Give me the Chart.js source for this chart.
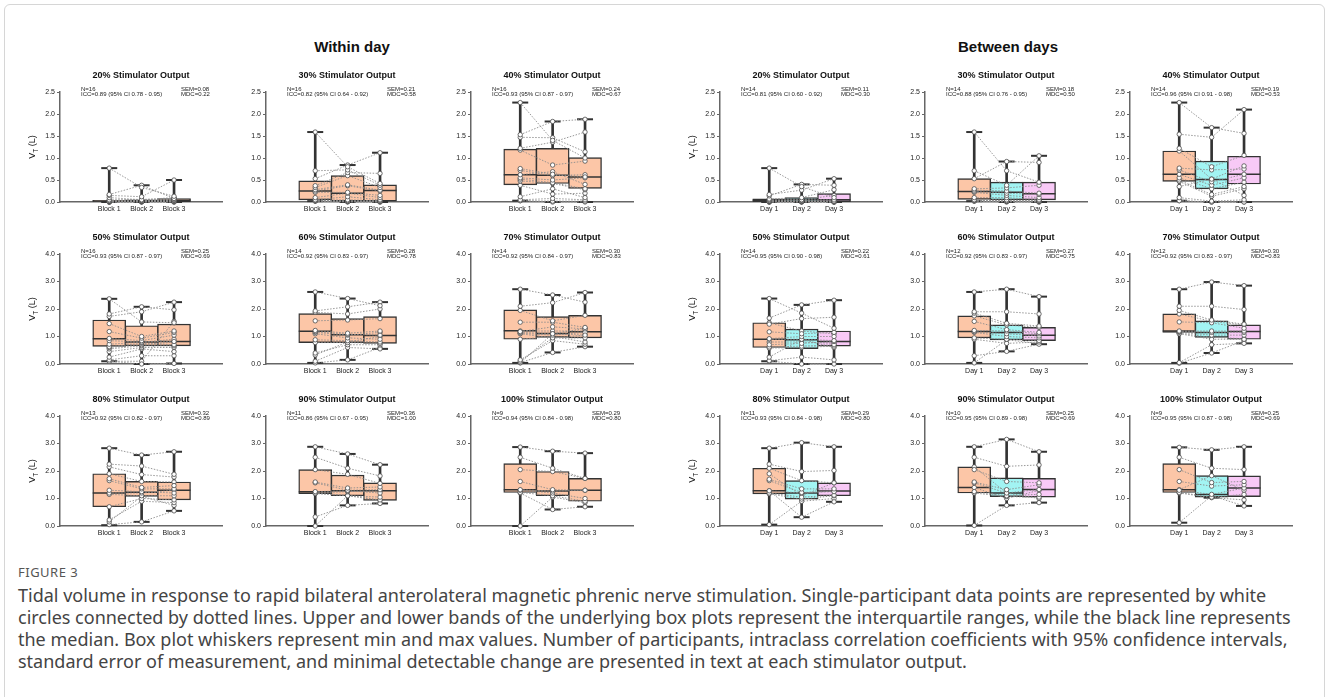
<!DOCTYPE html>
<html>
<head>
<meta charset="utf-8">
<script src="https://cdn.jsdelivr.net/npm/chart.js@4.4.1/dist/chart.umd.min.js"></script>
<style>
  body { margin: 0; background: #fff; font-family: "Liberation Sans", Arial, sans-serif; }
  #frame { position: absolute; left: 4px; top: 4px; width: 1319px; height: 760px; border: 1px solid #d6d6d6; border-radius: 6px; }
  .panel { position: absolute; width: 240px; height: 160px; }
  .hdr { position: absolute; font-weight: bold; font-size: 15px; color: #111; transform: translateX(-50%); white-space: nowrap; }
  #figlabel { position: absolute; left: 18px; top: 563px; font-size: 13px; color: #555; letter-spacing: 0.5px; font-family: "Noto Sans", sans-serif; }
  #cap { position: absolute; left: 18px; top: 584px; width: 1310px; font-size: 18px; line-height: 22px; color: #444; font-family: "Noto Sans", sans-serif; white-space: nowrap; }
</style>
</head>
<body>
<div id="frame"></div>
<div class="hdr" style="left:352px;top:38px">Within day</div>
<div class="hdr" style="left:1008px;top:38px">Between days</div>
<div id="figlabel">FIGURE 3</div>
<div id="cap">Tidal volume in response to rapid bilateral anterolateral magnetic phrenic nerve stimulation. Single-participant data points are represented by white<br>circles connected by dotted lines. Upper and lower bands of the underlying box plots represent the interquartile ranges, while the black line represents<br>the median. Box plot whiskers represent min and max values. Number of participants, intraclass correlation coefficients with 95% confidence intervals,<br>standard error of measurement, and minimal detectable change are presented in text at each stimulator output.</div>
<div id="panels"></div>

<script>
// ---- data ----
// box stats per group: [min, q1, median, q3, max]
const w20Box = [[0,0,0.02,0.04,0.77],[0,0.01,0.03,0.05,0.38],[0,0.01,0.04,0.08,0.50]];
const w30Box = [[0.02,0.05,0.25,0.48,1.59],[0,0.02,0.20,0.60,0.84],[0,0.02,0.26,0.39,1.12]];
const w40Box = [[0.03,0.39,0.62,1.20,2.26],[0,0.42,0.61,1.22,1.83],[0,0.31,0.57,1.01,1.88]];
const d20Box = [[0,0.01,0.04,0.07,0.77],[0,0.01,0.05,0.10,0.40],[0,0.01,0.05,0.19,0.53]];
const d30Box = [[0.02,0.06,0.24,0.53,1.59],[0,0.05,0.22,0.45,0.92],[0,0.05,0.19,0.45,1.05]];
const d40Box = [[0.03,0.47,0.63,1.16,2.26],[0,0.30,0.51,0.93,1.69],[0,0.41,0.63,1.04,2.10]];
const w50Box = [[0.10,0.64,0.92,1.60,2.37],[0,0.66,0.80,1.39,2.08],[0.02,0.66,0.82,1.45,2.25]];
const w60Box = [[0.04,0.78,1.19,1.83,2.62],[0.15,0.78,1.06,1.65,2.38],[0.55,0.75,1.04,1.72,2.25]];
const w70Box = [[0.04,0.90,1.21,1.97,2.72],[0.42,0.97,1.11,1.72,2.51],[0.63,0.95,1.17,1.77,2.60]];
const d50Box = [[0.10,0.60,0.90,1.50,2.38],[0,0.56,0.88,1.27,2.15],[0,0.65,0.82,1.20,2.32]];
const d60Box = [[0.04,0.95,1.18,1.75,2.62],[0.46,0.88,1.15,1.42,2.72],[0.72,0.85,1.05,1.33,2.45]];
const d70Box = [[0.04,1.15,1.20,1.82,2.72],[0.40,0.97,1.15,1.57,2.98],[0.75,0.90,1.18,1.42,2.85]];
const w80Box = [[0.03,0.70,1.20,1.90,2.83],[0.15,1.08,1.23,1.62,2.58],[0.55,0.95,1.30,1.60,2.70]];
const w90Box = [[0,1.18,1.25,2.05,2.88],[0.75,1.10,1.28,1.85,2.62],[0.82,0.93,1.28,1.57,2.23]];
const w100Box = [[0,1.22,1.32,2.27,2.87],[0.60,1.10,1.27,1.98,2.72],[0.70,0.90,1.30,1.73,2.65]];
const d80Box = [[0.05,1.17,1.28,2.10,2.83],[0.32,0.98,1.20,1.65,3.03],[0.88,1.10,1.27,1.57,2.88]];
const d90Box = [[0.02,1.20,1.40,2.15,2.88],[0.75,1.07,1.20,1.75,3.15],[0.85,1.05,1.33,1.73,2.70]];
const d100Box = [[0.12,1.22,1.32,2.27,2.86],[1.03,1.05,1.15,1.83,2.77],[0.73,1.07,1.38,1.82,2.88]];

// single participants: [group1, group2, group3]
const w20Pts = [[0.77,0.33,0.13],[0.17,0.38,0.08],[0.15,0.12,0.50],[0.10,0.05,0.10],[0.05,0.06,0.07],[0.03,0.04,0.05],[0.03,0.03,0.06],[0.02,0.03,0.04],[0.02,0.02,0.05],[0.01,0.02,0.03],[0.01,0.01,0.02],[0.01,0.01,0.02],[0,0,0.01],[0,0.02,0.01],[0,0,0],[0,0.01,0]];
const w30Pts = [[1.59,0.80,0.42],[0.71,0.73,0.38],[0.53,0.84,1.12],[0.37,0.67,0.65],[0.33,0.60,0.33],[0.28,0.39,0.27],[0.25,0.37,0.25],[0.22,0.22,0.15],[0.10,0.20,0.10],[0.05,0.12,0.05],[0.04,0.05,0.03],[0.04,0.03,0.02],[0.03,0.02,0.02],[0.03,0.01,0.01],[0.02,0.01,0],[0.02,0,0]];
const w40Pts = [[2.26,1.40,1.00],[1.53,1.83,1.88],[1.47,1.46,1.14],[1.22,1.36,1.59],[1.18,0.84,0.93],[0.76,0.63,0.57],[0.72,0.60,0.62],[0.62,0.69,0.40],[0.55,0.50,0.55],[0.52,0.44,0.30],[0.48,0.42,0.28],[0.38,0.18,0.20],[0.12,0.30,0.10],[0.05,0.08,0.05],[0.03,0.02,0.02],[0.03,0,0]];
const d20Pts = [[0.77,0.35,0.10],[0.17,0.27,0.53],[0.14,0.40,0.38],[0.07,0.10,0.28],[0.05,0.05,0.15],[0.03,0.05,0.05],[0.03,0.04,0.02],[0.02,0.02,0.02],[0.02,0.02,0.01],[0.01,0.01,0.01],[0.01,0.01,0],[0,0.01,0],[0,0,0],[0,0,0]];
const d30Pts = [[1.59,0.71,0.45],[0.71,0.38,1.05],[0.53,0.92,0.90],[0.30,0.32,0.38],[0.27,0.25,0.20],[0.24,0.20,0.17],[0.22,0.15,0.10],[0.10,0.10,0.05],[0.05,0.05,0.03],[0.05,0.03,0.02],[0.04,0.02,0.02],[0.03,0.02,0.01],[0.02,0.01,0],[0.02,0,0]];
const d40Pts = [[2.26,1.69,1.56],[1.54,1.47,2.10],[1.22,0.80,1.06],[1.16,0.52,0.82],[0.77,0.73,0.75],[0.73,0.46,0.63],[0.63,0.38,0.55],[0.55,0.30,0.45],[0.50,0.17,0.35],[0.47,0.13,0.30],[0.35,0.52,0.15],[0.10,0.02,0.05],[0.03,0,0],[0.03,0,0]];
const w50Pts = [[2.37,1.53,1.50],[1.82,2.08,1.97],[1.73,1.90,2.25],[1.47,1.00,1.20],[1.18,0.94,1.15],[0.93,0.85,1.05],[0.85,0.80,0.82],[0.72,0.79,0.90],[0.63,0.75,0.70],[0.60,0.70,0.80],[0.55,0.66,0.66],[0.45,0.60,0.60],[0.25,0.55,0.45],[0.15,0.30,0.30],[0.10,0,0.02],[0.10,0.10,1.55]];
const w60Pts = [[2.62,2.38,2.12],[1.93,2.08,2.25],[1.88,1.82,2.00],[1.57,1.60,1.65],[1.22,1.12,1.20],[1.18,1.08,1.05],[1.15,1.05,1.15],[1.10,0.95,0.90],[0.88,0.85,0.80],[0.78,0.78,0.75],[0.40,0.70,0.70],[0.33,0.80,1.00],[0.10,0.60,0.55],[0.04,0.15,0.60]];
const w70Pts = [[2.72,2.51,2.25],[2.10,2.23,2.60],[1.95,1.57,1.77],[1.52,1.52,1.33],[1.18,1.35,1.28],[1.15,1.10,1.05],[1.12,1.05,1.15],[1.10,0.95,0.95],[0.90,1.00,0.80],[0.15,0.85,0.72],[0.10,0.95,1.05],[0.05,0.42,0.63],[0.04,1.10,1.30],[1.20,1.20,1.20]];
const d50Pts = [[2.38,1.85,1.30],[1.67,2.15,2.32],[1.45,1.65,1.70],[1.17,1.10,1.15],[0.92,1.00,1.00],[0.90,0.90,0.85],[0.70,0.75,0.82],[0.62,0.65,0.70],[0.58,0.60,0.65],[0.25,0.90,0.60],[0.12,0.25,0.15],[0.10,0,0],[1.50,1.20,1.10],[0.80,0.80,0.75]];
const d60Pts = [[2.62,2.72,2.45],[1.90,1.90,1.82],[1.85,1.48,1.38],[1.55,1.25,1.15],[1.22,1.20,1.10],[1.18,1.10,1.02],[1.15,1.00,0.95],[0.95,0.90,0.85],[0.90,0.75,0.80],[0.30,0.46,0.72],[0.04,0.88,0.75],[1.75,1.42,1.33]];
const d70Pts = [[2.72,2.98,2.85],[2.10,2.10,1.98],[1.95,1.60,1.45],[1.53,1.50,1.30],[1.82,1.55,1.42],[1.20,1.20,1.20],[1.18,1.15,1.15],[1.15,1.05,1.05],[1.10,0.90,0.90],[1.12,0.97,0.92],[0.05,0.70,0.75],[0.03,0.40,0.85]];
const w80Pts = [[2.83,2.58,2.70],[2.25,2.18,1.88],[2.15,1.87,1.78],[1.72,1.40,1.47],[1.65,1.35,1.35],[1.30,1.25,1.20],[1.20,1.20,1.30],[1.15,1.10,1.10],[1.90,1.62,1.60],[0.70,1.00,0.95],[0.22,0.90,0.85],[0.15,1.08,0.75],[0.05,0.15,0.55]];
const w90Pts = [[2.88,2.62,2.23],[2.50,2.10,1.82],[2.05,1.88,1.55],[1.60,1.38,1.42],[1.57,1.30,1.32],[1.25,1.28,1.20],[1.20,1.25,1.28],[1.18,1.10,1.05],[1.19,1.12,0.95],[0.33,0.75,0.82],[0,1.10,0.93]];
const w100Pts = [[2.87,2.72,2.65],[2.50,2.10,1.73],[2.05,1.98,1.73],[1.62,1.32,1.30],[1.32,1.27,1.30],[1.30,1.20,1.00],[1.22,1.10,0.90],[1.20,0.60,0.70],[0,1.05,0.85]];
const d80Pts = [[2.83,3.03,2.88],[2.25,1.98,2.02],[2.10,1.65,1.57],[1.70,1.35,1.35],[1.65,1.22,1.25],[1.28,1.20,1.27],[1.20,1.05,1.12],[1.17,0.98,1.10],[1.28,0.32,0.88],[0.05,0.90,1.00],[1.90,1.10,1.57]];
const d90Pts = [[2.88,3.15,2.70],[2.50,2.17,2.22],[2.05,1.62,1.57],[1.60,1.32,1.50],[1.57,1.20,1.33],[1.25,1.10,1.15],[1.20,1.07,1.05],[1.40,1.00,1.30],[2.15,1.20,1.00],[0.02,0.75,0.85]];
const d100Pts = [[2.86,2.77,2.88],[2.50,2.10,2.05],[2.05,1.58,1.62],[1.62,1.45,1.50],[1.30,1.15,1.38],[1.22,1.05,1.15],[1.20,1.03,0.95],[0.12,1.10,0.73],[1.32,1.83,1.30]];

const blockLabels = ["Block 1", "Block 2", "Block 3"];
const dayLabels = ["Day 1", "Day 2", "Day 3"];
const outputs = ["20%", "30%", "40%", "50%", "60%", "70%", "80%", "90%", "100%"];
const withinN = [16, 16, 16, 16, 14, 14, 13, 11, 9];
const withinICC = ["0.89 (95% CI 0.78 - 0.95)", "0.82 (95% CI 0.64 - 0.92)", "0.93 (95% CI 0.87 - 0.97)", "0.93 (95% CI 0.87 - 0.97)", "0.92 (95% CI 0.83 - 0.97)", "0.92 (95% CI 0.84 - 0.97)", "0.92 (95% CI 0.82 - 0.97)", "0.86 (95% CI 0.67 - 0.95)", "0.94 (95% CI 0.84 - 0.98)"];
const withinSEM = ["0.08", "0.21", "0.24", "0.25", "0.28", "0.30", "0.32", "0.36", "0.29"];
const withinMDC = ["0.22", "0.58", "0.67", "0.69", "0.78", "0.83", "0.89", "1.00", "0.80"];
const betweenN = [14, 14, 14, 14, 12, 12, 11, 10, 9];
const betweenICC = ["0.81 (95% CI 0.60 - 0.92)", "0.88 (95% CI 0.76 - 0.95)", "0.96 (95% CI 0.91 - 0.98)", "0.95 (95% CI 0.90 - 0.98)", "0.92 (95% CI 0.83 - 0.97)", "0.92 (95% CI 0.83 - 0.97)", "0.93 (95% CI 0.84 - 0.98)", "0.95 (95% CI 0.89 - 0.98)", "0.95 (95% CI 0.87 - 0.98)"];
const betweenSEM = ["0.11", "0.18", "0.19", "0.22", "0.27", "0.30", "0.29", "0.25", "0.25"];
const betweenMDC = ["0.30", "0.50", "0.53", "0.61", "0.75", "0.83", "0.80", "0.69", "0.69"];

const withinBoxes = [w20Box, w30Box, w40Box, w50Box, w60Box, w70Box, w80Box, w90Box, w100Box];
const withinPts = [w20Pts, w30Pts, w40Pts, w50Pts, w60Pts, w70Pts, w80Pts, w90Pts, w100Pts];
const betweenBoxes = [d20Box, d30Box, d40Box, d50Box, d60Box, d70Box, d80Box, d90Box, d100Box];
const betweenPts = [d20Pts, d30Pts, d40Pts, d50Pts, d60Pts, d70Pts, d80Pts, d90Pts, d100Pts];

// ---- layout ----
const FONT = '"Liberation Sans", Arial, sans-serif';
const withinAxisX = [60, 266, 471];
const betweenAxisX = [720, 925, 1130];
const rowTop = [92, 254, 416];
const salmon = "#fcc6a7", cyan = "#a2f4f3", pink = "#f8c9f6";

const panelText = {
  id: "panelText",
  afterDraw(chart, args, o) {
    const ctx = chart.ctx, a = chart.chartArea;
    ctx.save();
    ctx.fillStyle = "#111";
    ctx.textAlign = "center";
    ctx.textBaseline = "middle";
    ctx.font = "bold 9px " + FONT;
    ctx.fillText(o.title, (a.left + a.right) / 2, a.top - 16.5);
    ctx.font = "6px " + FONT;
    ctx.fillStyle = "#222";
    ctx.textAlign = "left";
    ctx.fillText("N=" + o.n, a.left + 21, a.top - 3);
    ctx.fillText("ICC=" + o.icc, a.left + 21, a.top + 2.5);
    ctx.fillText("SEM=" + o.sem, a.left + 121, a.top - 3);
    ctx.fillText("MDC=" + o.mdc, a.left + 121, a.top + 2.5);
    if (o.yTitle) {
      ctx.translate(a.left - 27, (a.top + a.bottom) / 2);
      ctx.rotate(-Math.PI / 2);
      ctx.fillStyle = "#111";
      ctx.textAlign = "left";
      ctx.font = "9px " + FONT;
      const w1 = ctx.measureText("V").width;
      ctx.font = "6.5px " + FONT;
      const w2 = ctx.measureText("T").width;
      ctx.font = "9px " + FONT;
      const w3 = ctx.measureText(" (L)").width;
      let x = -(w1 + w2 + w3) / 2;
      ctx.fillText("V", x, 0);
      ctx.font = "6.5px " + FONT;
      ctx.fillText("T", x + w1, 3);
      ctx.font = "9px " + FONT;
      ctx.fillText(" (L)", x + w1 + w2, 0);
    }
    ctx.restore();
  }
};

function makePanel(left, top, box, pts, labels, colors, title, n, icc, sem, mdc, yMax, yTitle) {
  const div = document.createElement("div");
  div.className = "panel";
  div.style.left = (left - 60) + "px";
  div.style.top = (top - 32) + "px";
  const cv = document.createElement("canvas");
  cv.width = 240; cv.height = 160;
  div.appendChild(cv);
  document.getElementById("panels").appendChild(div);

  const datasets = [];
  pts.forEach(row => {
    datasets.push({
      type: "line",
      data: row.map((v, i) => ({ x: i + 1, y: v })),
      borderColor: "#8c8c8c",
      borderWidth: 0.9,
      borderDash: [1.5, 1.5],
      pointRadius: 2.2,
      pointBackgroundColor: "#fff",
      pointBorderColor: "#4a4a4a",
      pointBorderWidth: 0.8,
      clip: false,
      order: 1
    });
  });
  // medians
  datasets.push({
    type: "line", showLine: false,
    data: box.map((b, i) => ({ x: i + 1, y: b[2] })),
    pointStyle: "line", pointRadius: 16.5,
    pointBorderColor: "#333", pointBorderWidth: 1.5, clip: false, order: 2
  });
  // whisker caps
  datasets.push({
    type: "line", showLine: false,
    data: box.flatMap((b, i) => [{ x: i + 1, y: b[0] }, { x: i + 1, y: b[4] }]),
    pointStyle: "line", pointRadius: 8,
    pointBorderColor: "#333", pointBorderWidth: 2, clip: false, order: 2
  });
  // boxes (interquartile range)
  datasets.push({
    type: "bar",
    data: box.map((b, i) => ({ x: i + 1, y: [b[1], b[3]] })),
    backgroundColor: colors, borderColor: "#333", borderWidth: 1.4,
    borderSkipped: false, barThickness: 33, grouped: false, order: 3
  });
  // whiskers
  datasets.push({
    type: "bar",
    data: box.map((b, i) => ({ x: i + 1, y: [b[0], b[4]] })),
    backgroundColor: "#333", borderWidth: 0,
    barThickness: 2, grouped: false, order: 4
  });

  new Chart(cv, {
    type: "bar",
    data: { datasets },
    options: {
      responsive: false,
      animation: false,
      devicePixelRatio: 1,
      layout: { padding: { top: 32, right: 10, left: 0, bottom: 0 } },
      plugins: {
        legend: { display: false },
        tooltip: { enabled: false },
        panelText: { title, n, icc, sem, mdc, yTitle }
      },
      scales: {
        x: {
          type: "linear", min: 0.314, max: 3.647,
          afterBuildTicks: s => { s.ticks = [{ value: 1 }, { value: 2 }, { value: 3 }]; },
          afterFit: s => { s.height = 16; },
          ticks: { callback: v => labels[Math.round(v) - 1], font: { size: 7, family: FONT }, color: "#222", padding: 3, maxRotation: 0, autoSkip: false },
          grid: { display: false, drawTicks: false, tickLength: 0 },
          border: { display: true, color: "#666", width: 1.5 }
        },
        y: {
          min: 0, max: yMax,
          afterFit: s => { s.width = 60; },
          ticks: { stepSize: yMax === 2.5 ? 0.5 : 1, callback: v => Number(v).toFixed(1), font: { size: 7, family: FONT }, color: "#222", padding: 2 },
          grid: { drawOnChartArea: false, drawTicks: true, tickLength: 3, color: "#666", lineWidth: 1 },
          border: { display: true, color: "#666", width: 1.5 }
        }
      }
    },
    plugins: [panelText]
  });
}

for (let k = 0; k < 9; k++) {
  const row = Math.floor(k / 3), col = k % 3;
  const yMax = row === 0 ? 2.5 : 4;
  makePanel(withinAxisX[col], rowTop[row], withinBoxes[k], withinPts[k], blockLabels,
    [salmon, salmon, salmon], outputs[k] + " Stimulator Output",
    withinN[k], withinICC[k], withinSEM[k], withinMDC[k], yMax, col === 0);
  makePanel(betweenAxisX[col], rowTop[row], betweenBoxes[k], betweenPts[k], dayLabels,
    [salmon, cyan, pink], outputs[k] + " Stimulator Output",
    betweenN[k], betweenICC[k], betweenSEM[k], betweenMDC[k], yMax, col === 0);
}
</script>
</body>
</html>
